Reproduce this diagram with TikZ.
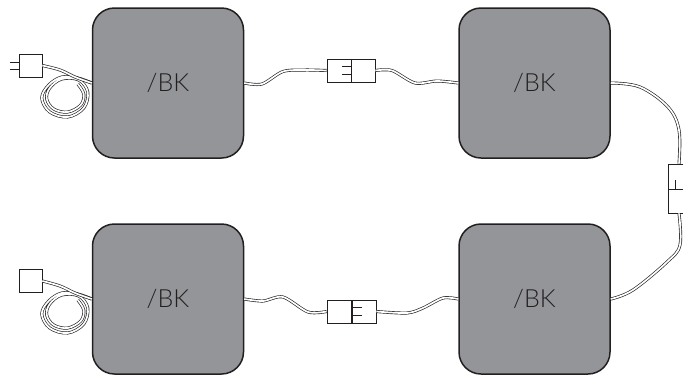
\documentclass[tikz,border=0pt]{standalone}
\usepackage{fontspec}
\setmainfont{Lato Light}
\definecolor{bkgray}{HTML}{939598}
\definecolor{wirecol}{HTML}{231F20}
\tikzset{
  bkbox/.style={draw=wirecol,fill=bkgray,line width=1.5pt,rounded corners=22pt,
    minimum width=151pt,minimum height=150pt,inner sep=0pt,text=wirecol,font=\fontsize{25}{28}\selectfont},
  plugbox/.style={draw=wirecol,fill=white,line width=0.7pt,minimum width=23pt,minimum height=23pt,inner sep=0pt},
  cable/.style={draw=wirecol,line width=0.65pt,double=white,double distance=1.7pt},
  pin/.style={draw=wirecol,line width=0.7pt},
  coil/.pic={
    \draw[cable] plot[smooth,tension=0.6] coordinates {(0,0) (-14,-5) (-30,-6) (-43,2) (-50,15) (-42,29) (-24,34) (-8,25) (-4,9) (-13,-3) (-30,-4) (-42,5) (-45,16) (-38,26) (-24,29) (-11,22) (-8,11) (-14,1)};
  }
}
\begin{document}
\begin{tikzpicture}[x=1pt,y=-1pt]
  \useasboundingbox (0,0) rectangle (683,376);
  \clip (0,0) rectangle (683,376);

  \node[bkbox] (bkA) at (168,83) {/BK};
  \node[bkbox] (bkB) at (534.5,83) {/BK};
  \node[bkbox] (bkC) at (168,299) {/BK};
  \node[bkbox] (bkD) at (534.5,299) {/BK};

  \node[plugbox] (plugA) at (30.5,65.5) {};
  \node[plugbox] (plugC) at (30.5,281) {};

  \node[plugbox,minimum width=24pt] (jointAl) at (339,70.5) {};
  \node[plugbox,minimum width=24pt] (jointAr) at (363,70.5) {};
  \node[plugbox,minimum width=24pt,minimum height=25pt] (jointBu) at (680,176.5) {};
  \node[plugbox,minimum width=24pt,minimum height=24pt] (jointBd) at (680,201) {};
  \node[plugbox,minimum width=24pt] (jointCl) at (339,311.5) {};
  \node[plugbox,minimum width=24pt] (jointCr) at (364,311.5) {};

  \draw[pin] ([yshift=3.5pt]plugA.west) -- ++(-9,0);
  \draw[pin] ([yshift=-3.5pt]plugA.west) -- ++(-9,0);
  \draw[pin] ([yshift=4pt]jointAl.east) -- ++(-9,0);
  \draw[pin] ([yshift=-4pt]jointAl.east) -- ++(-9,0);
  \draw[pin] ([xshift=-5pt]jointBu.south) -- ++(0,-9);
  \draw[pin] ([xshift=3pt]jointBu.south) -- ++(0,-9);
  \draw[pin] ([yshift=4pt]jointCr.west) -- ++(10,0);
  \draw[pin] ([yshift=-4pt]jointCr.west) -- ++(10,0);

  \path (bkA.west) pic {coil};
  \path (bkC.west) pic {coil};
  \draw[cable] plot[smooth,tension=0.6] coordinates {(plugA.east) (60,70) (75,77) (bkA.west)};
  \draw[cable] plot[smooth,tension=0.6] coordinates {(plugC.east) (60,286) (75,293) (bkC.west)};

  \draw[cable] plot[smooth,tension=0.5] coordinates {(bkA.east) (262,84) (283,71.5) (305,70) (jointAl.west)};
  \draw[cable] plot[smooth,tension=0.5] coordinates {(jointAr.east) (392,70.5) (415,83) (437,81) (bkB.west)};
  \draw[cable] plot[smooth,tension=0.6] coordinates {(bkB.east) (640,87) (668,107) (679,130) (jointBu.north -| 679,0)};
  \draw[cable] plot[smooth,tension=0.6] coordinates {(jointBd.south -| 679,0) (680,245) (667,262) (633,290) (bkD.east)};
  \draw[cable] plot[smooth,tension=0.5] coordinates {(bkC.east) (263,301) (283,297) (308,312) (jointCl.west)};
  \draw[cable] plot[smooth,tension=0.5] coordinates {(jointCr.east) (407,313) (423,308) (443,298) (bkD.west)};
\end{tikzpicture}
\end{document}
